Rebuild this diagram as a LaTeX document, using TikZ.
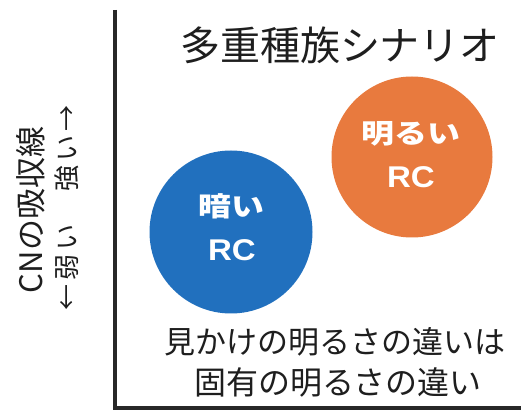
\documentclass[tikz,border=0pt]{standalone}
\usepackage{fontspec}
\setmainfont{Noto Sans CJK JP}
\newfontfamily\diskjpfont[FakeStretch=1.22]{Noto Sans CJK JP}
\newfontfamily\diskrcfont[FakeStretch=1.1]{Liberation Sans}
\newfontfamily\spacedjp[LetterSpace=15]{Noto Sans CJK JP}
\definecolor{axisgray}{RGB}{40,40,40}
\definecolor{rcblue}{RGB}{33,112,190}
\definecolor{rcorange}{RGB}{232,122,62}
\definecolor{textgray}{RGB}{30,30,30}
\tikzset{
  axisline/.style={draw=axisgray, line width=4.5pt, line join=miter},
  rcdisk/.style={circle, inner sep=0pt, draw=none},
  disklabel/.style={text=white, font=\diskjpfont\bfseries\fontsize{27pt}{30pt}\selectfont, inner sep=0pt},
  disklabelrc/.style={text=white, font=\diskrcfont\bfseries\fontsize{30pt}{32pt}\selectfont, inner sep=0pt},
  bigtext/.style={text=textgray, inner sep=0pt},
}
\begin{document}
\begin{tikzpicture}[x=1pt,y=-1pt]
\useasboundingbox (0,0) rectangle (523,417);
\fill[white] (0,0) rectangle (523,417);
% axes
\coordinate (ytop) at (115,10);
\coordinate (origin) at (115,408);
\coordinate (xend) at (521,408);
\draw[axisline] (ytop) -- (origin) -- (xend);
% title
\node[bigtext, font=\fontsize{40pt}{48pt}\selectfont] (title) at (340,45) {多重種族シナリオ};
% disks
\node[rcdisk, fill=rcorange, minimum size=161pt] (bright) at (412,157) {};
\node[rcdisk, fill=rcblue, minimum size=163pt] (dark) at (231,232) {};
\node[disklabel] (brightjp) at (411,133.5) {明るい};
\node[disklabelrc] (brightrc) at (411,177) {RC};
\node[disklabel] (darkjp) at (231,206.5) {暗い};
\node[disklabelrc] (darkrc) at (232,250) {RC};
% bottom text
\node[bigtext, font=\fontsize{31pt}{36pt}\selectfont] (line1) at (335,342) {見かけの明るさの違いは};
\node[bigtext, font=\fontsize{32pt}{36pt}\selectfont] (line2) at (338,382) {固有の明るさの違い};
% y-axis labels
\node[bigtext, rotate=90, font=\fontsize{31pt}{34pt}\selectfont] (ylab) at (31,210) {CNの吸収線};
\node[bigtext, rotate=90, font=\spacedjp\fontsize{26pt}{28pt}\selectfont] (yarrows) at (67,208) {←弱い　強い→};
\end{tikzpicture}
\end{document}
